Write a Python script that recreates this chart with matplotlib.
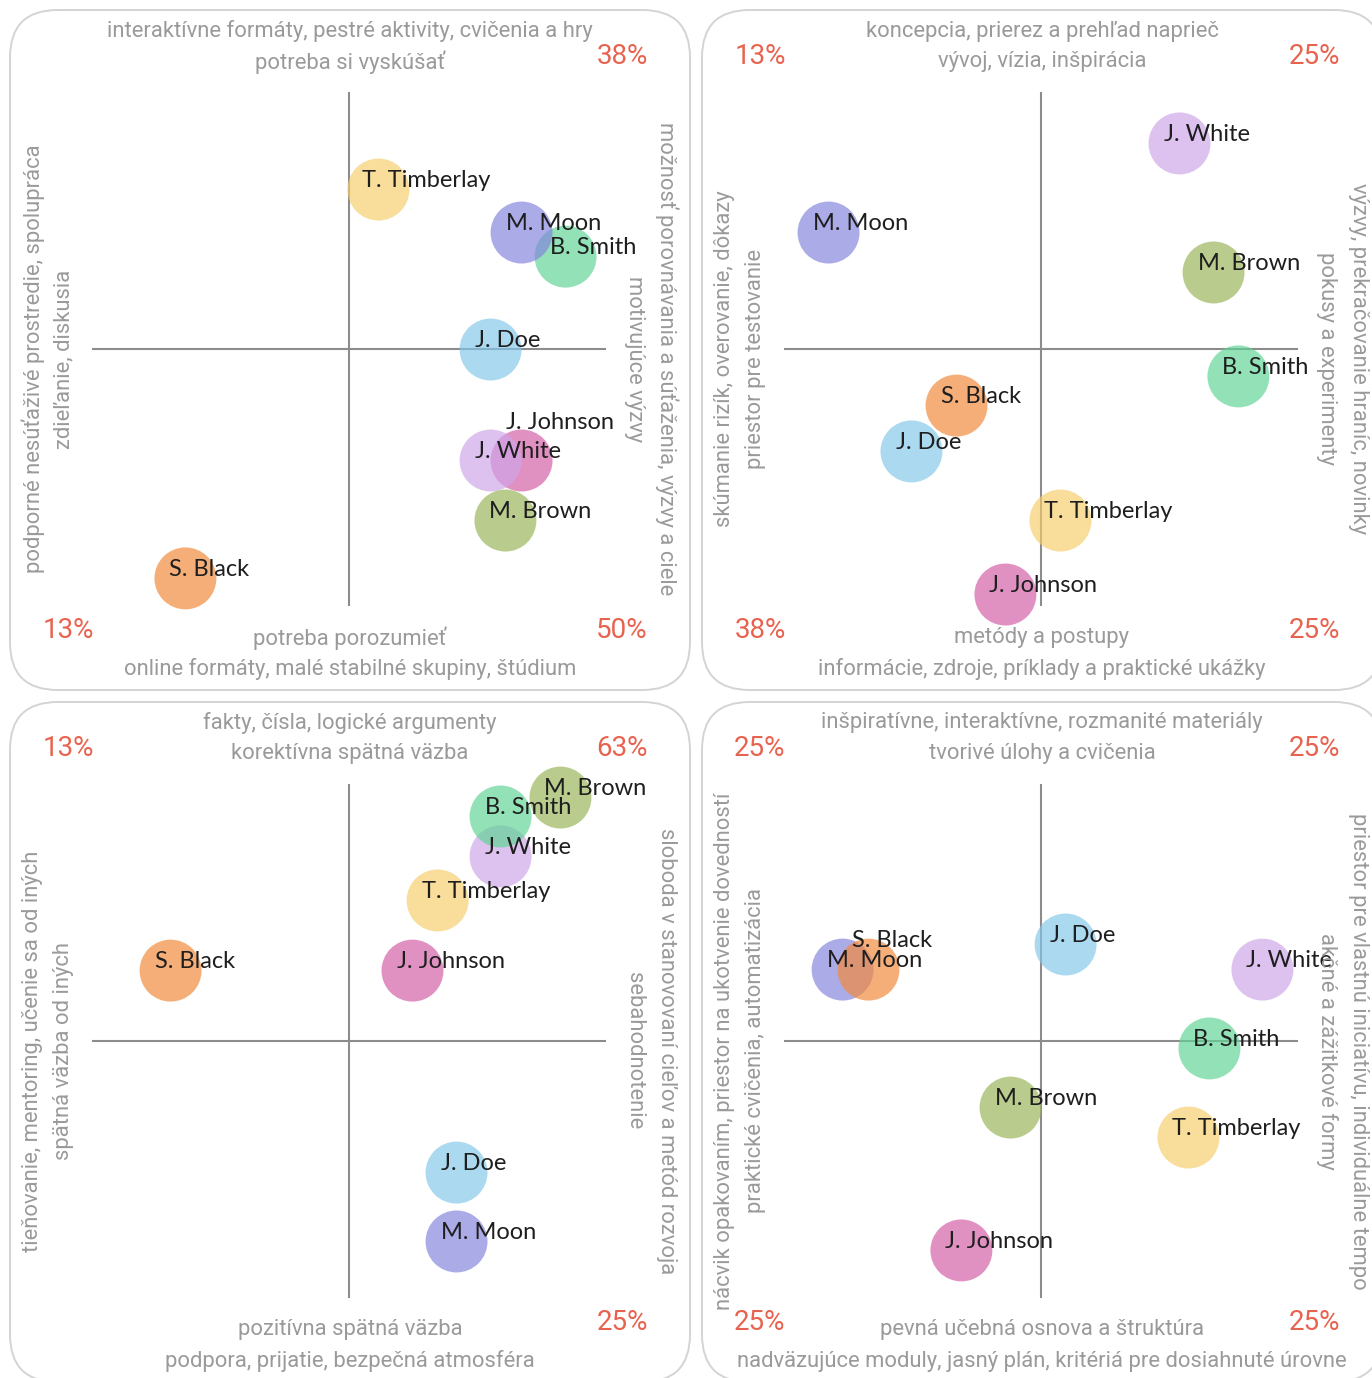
import matplotlib
matplotlib.use("Agg")
import matplotlib.pyplot as plt
from matplotlib.patches import FancyBboxPatch

# ============================================================
# DATA
# ============================================================
names = ["J. Doe", "J. Johnson", "J. White", "M. Brown",
         "B. Smith", "M. Moon", "T. Timberlay", "S. Black"]
colors = ["#83c7ea", "#d35ba5", "#cda5e8", "#98b558",
          "#5fd395", "#8383de", "#f5cd6c", "#f3883a"]

# one list per panel, same order as names
x1 = [0.555, 0.676, 0.555, 0.613, 0.848, 0.676, 0.117, -0.637]
y1 = [-0.004, -0.4375, -0.4375, -0.672, 0.359, 0.453, 0.621, -0.898]
x2 = [-0.504, -0.137, 0.543, 0.676, 0.773, -0.828, 0.078, -0.328]
y2 = [-0.402, -0.961, 0.801, 0.297, -0.109, 0.453, -0.672, -0.223]
x3 = [0.422, 0.250, 0.594, 0.828, 0.594, 0.422, 0.348, -0.695]
y3 = [-0.516, 0.273, 0.719, 0.949, 0.875, -0.785, 0.547, 0.273]
x4 = [0.098, -0.309, 0.867, -0.117, 0.660, -0.773, 0.578, -0.672]
y4 = [0.375, -0.820, 0.277, -0.262, -0.031, 0.277, -0.379, 0.277]

# quadrant shares: top-left, top-right, bottom-left, bottom-right
pct1 = ["", "38%", "13%", "50%"]
pct2 = ["13%", "25%", "38%", "25%"]
pct3 = ["13%", "63%", "", "25%"]
pct4 = ["25%", "25%", "25%", "25%"]

# side texts: (outer, inner)
top1 = ("interaktívne formáty, pestré aktivity, cvičenia a hry", "potreba si vyskúšať")
bot1 = ("online formáty, malé stabilné skupiny, štúdium", "potreba porozumieť")
left1 = ("podporné nesúťaživé prostredie, spolupráca", "zdieľanie, diskusia")
right1 = ("možnosť porovnávania a súťaženia, výzvy a ciele", "motivujúce výzvy")

top2 = ("koncepcia, prierez a prehľad naprieč", "vývoj, vízia, inšpirácia")
bot2 = ("informácie, zdroje, príklady a praktické ukážky", "metódy a postupy")
left2 = ("skúmanie rizík, overovanie, dôkazy", "priestor pre testovanie")
right2 = ("výzvy, prekračovanie hraníc, novinky", "pokusy a experimenty")

top3 = ("fakty, čísla, logické argumenty", "korektívna spätná väzba")
bot3 = ("podpora, prijatie, bezpečná atmosféra", "pozitívna spätná väzba")
left3 = ("tieňovanie, mentoring, učenie sa od iných", "spätná väzba od iných")
right3 = ("sloboda v stanovovaní cieľov a metód rozvoja", "sebahodnotenie")

top4 = ("inšpiratívne, interaktívne, rozmanité materiály", "tvorivé úlohy a cvičenia")
bot4 = ("nadväzujúce moduly, jasný plán, kritériá pre dosiahnuté úrovne", "pevná učebná osnova a štruktúra")
left4 = ("nácvik opakovaním, priestor na ukotvenie dovedností", "praktické cvičenia, automatizácia")
right4 = ("priestor pre vlastnú iniciatívu, individuálne tempo", "akčné a zážitkové formy")

panels = [
    (x1, y1, pct1, top1, bot1, left1, right1),
    (x2, y2, pct2, top2, bot2, left2, right2),
    (x3, y3, pct3, top3, bot3, left3, right3),
    (x4, y4, pct4, top4, bot4, left4, right4),
]

# label nudges (pixels up) for overlapping names
nudges = {(0, "J. Johnson"): 29, (3, "S. Black"): 20}

# ============================================================
# LAYOUT
# ============================================================
W, H = 1372, 1378
PANEL = 680
STEP = 692
C = 338.5      # cross centre inside a panel (px)
R = 256.0      # half length of the cross (px)
GRAY = "#9a9a9a"
RED = "#e8634f"
NAME_FONT = "Lato"
SIDE_FONT = "Roboto"

fig = plt.figure(figsize=(W / 100, H / 100), dpi=100)

for i, (xs, ys, pct, top, bot, left, right) in enumerate(panels):
    col, row = i % 2, i // 2
    left_px = 10 + STEP * col
    top_px = 10 + STEP * row
    ax = fig.add_axes([left_px / W, 1 - (top_px + PANEL) / H, PANEL / W, PANEL / H])
    ax.set_xlim(-C / R, (PANEL - C) / R)
    ax.set_ylim(-(PANEL - C) / R, C / R)
    ax.axis("off")

    box = FancyBboxPatch((0, 0), 1, 1, boxstyle="round,pad=0,rounding_size=0.07",
                         transform=ax.transAxes, fc="white", ec="#d4d4d4",
                         lw=1.4, clip_on=False, zorder=0)
    ax.add_patch(box)

    ax.plot([-1, 1], [0, 0], color="#8c8c8c", lw=1.5, zorder=1)
    ax.plot([0, 0], [-1, 1], color="#8c8c8c", lw=1.5, zorder=1)

    for n, x, y, c in zip(names, xs, ys, colors):
        ax.scatter(x, y, s=1990, color=c, alpha=0.68, edgecolors="none", zorder=2)
    for n, x, y in zip(names, xs, ys):
        dy = 9 + nudges.get((i, n), 0)
        ax.annotate(n, (x, y), xytext=(-11.5, dy * 0.72), textcoords="offset points",
                    ha="left", va="center", fontsize=17, family=NAME_FONT,
                    color="#1e1e1e", zorder=3)

    # quadrant percentages
    pos = [(58, 47), (612, 47), (58, 620), (612, 620)]
    for txt, (px, py) in zip(pct, pos):
        if txt:
            ax.text(px / PANEL, 1 - py / PANEL, txt, transform=ax.transAxes,
                    ha="center", va="center", fontsize=20, color=RED,
                    family=SIDE_FONT)

    kw = dict(transform=ax.transAxes, ha="center", va="center", fontsize=15.8,
              color=GRAY, family=SIDE_FONT)
    ax.text(0.5, 1 - 21 / PANEL, top[0], **kw)
    ax.text(0.5, 1 - 52 / PANEL, top[1], **kw)
    ax.text(0.5, 1 - 659 / PANEL, bot[0], **kw)
    ax.text(0.5, 1 - 628 / PANEL, bot[1], **kw)
    ax.text(23 / PANEL, 1 - 349 / PANEL, left[0], rotation=90, **kw)
    ax.text(54 / PANEL, 1 - 349 / PANEL, left[1], rotation=90, **kw)
    ax.text(657 / PANEL, 1 - 349 / PANEL, right[0], rotation=-90, **kw)
    ax.text(625 / PANEL, 1 - 349 / PANEL, right[1], rotation=-90, **kw)

fig.savefig("out.png", dpi=100)
